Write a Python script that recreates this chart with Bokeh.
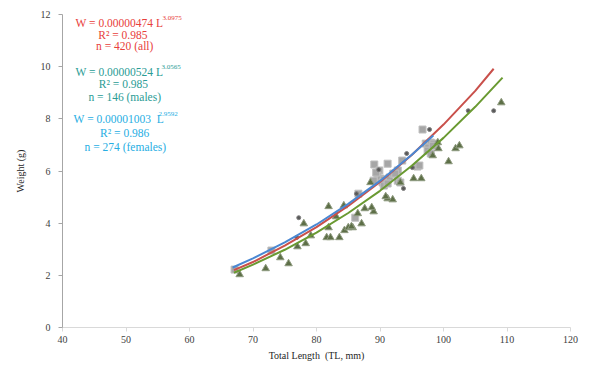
from bokeh.plotting import figure
from bokeh.models import Range1d, Label, FixedTicker
from bokeh.embed import file_html
from bokeh.resources import INLINE

# ---- data ----
sq_x = [67.1, 72.9, 86.6, 89.1, 91.2, 89.9, 89.6, 90.1, 90.6, 91.5, 92.1, 92.8, 93.5, 89.4,
        92.4, 90.4, 92.8, 93.2, 96.7, 97.2, 98.0, 97.6, 97.5, 98.0, 98.4, 95.9, 86.1,
        89.0, 90.6, 91.2, 96.2, 98.3]
sq_y = [2.22, 2.95, 5.13, 6.25, 6.28, 6.02, 5.82, 5.71, 5.67, 5.75, 5.90, 6.02, 6.40, 5.94,
        5.90, 5.56, 5.63, 5.56, 7.59, 7.05, 7.09, 6.90, 6.78, 6.67, 7.05, 6.17, 4.21,
        5.63, 5.44, 5.52, 6.21, 6.97]

tri_x = [67.9, 72.0, 74.3, 75.6, 78.0, 77.0, 78.3, 81.9, 84.3, 83.1, 81.6, 82.2, 83.6, 84.4,
         85.0, 85.7, 87.1, 89.0, 86.5, 87.6, 88.5, 91.2, 92.0, 90.9, 95.3, 96.5, 98.3, 99.1,
         100.8, 101.9, 102.5, 109.1, 81.9, 85.5, 88.7, 79.1, 93.2, 99.2]
tri_y = [2.03, 2.26, 2.68, 2.45, 3.98, 3.10, 3.22, 4.64, 4.67, 4.25, 3.45, 3.45, 3.45, 3.72,
         3.83, 3.83, 3.98, 4.44, 4.37, 4.56, 5.56, 4.94, 4.90, 5.02, 5.71, 5.71, 6.59, 7.09,
         6.36, 6.86, 6.97, 8.62, 3.83, 3.87, 4.60, 3.52, 5.56, 6.86]

dot_x = [77.2, 76.9, 86.3, 89.8, 94.2, 93.7, 95.1, 97.8, 103.9, 107.9]
dot_y = [4.21, 3.45, 5.13, 6.05, 6.67, 5.33, 6.13, 7.59, 8.31, 8.31]

# trend lines
red_x = [67, 70, 75, 80, 85, 90, 95, 100, 105, 107.9]
red_y = [2.20, 2.51, 3.14, 3.85, 4.66, 5.58, 6.61, 7.78, 9.07, 9.92]
grn_x = [67, 70, 75, 80, 85, 90, 95, 100, 105, 109.3]
grn_y = [2.10, 2.41, 2.98, 3.64, 4.39, 5.24, 6.20, 7.27, 8.46, 9.58]
blu_x = [66.8, 70, 75, 80, 85, 90, 95, 98.4]
blu_y = [2.30, 2.65, 3.26, 3.95, 4.74, 5.62, 6.62, 7.36]

x_ticks = [40, 50, 60, 70, 80, 90, 100, 110, 120]
y_ticks = [0, 2, 4, 6, 8, 10, 12]

FONT = "Liberation Serif"

p = figure(width=588, height=368, output_backend="svg", toolbar_location=None,
           x_range=Range1d(40, 120), y_range=Range1d(0, 12),
           min_border_left=62, min_border_right=18, min_border_top=14, min_border_bottom=41)
p.outline_line_color = None
p.xgrid.visible = False
p.ygrid.visible = False

p.xaxis.ticker = FixedTicker(ticks=x_ticks)
p.yaxis.ticker = FixedTicker(ticks=y_ticks)
for ax in (p.xaxis[0], p.yaxis[0]):
    ax.major_label_text_font = FONT
    ax.major_label_text_font_size = "10px"
    ax.major_label_text_color = "#404040"
    ax.axis_label_text_font = FONT
    ax.axis_label_text_font_size = "10px"
    ax.axis_label_text_font_style = "normal"
    ax.axis_label_text_color = "#262626"
    ax.major_tick_in = 0
    ax.major_tick_out = 4
    ax.minor_tick_in = 0
    ax.minor_tick_out = 0
p.xaxis.axis_line_color = "#d9d9d9"
p.xaxis.major_tick_line_color = "#d9d9d9"
p.yaxis.axis_line_color = "#a6a6a6"
p.yaxis.major_tick_line_color = "#a6a6a6"
p.xaxis.axis_label = "Total Length\u00a0\u00a0(TL, mm)"
p.yaxis.axis_label = "Weight (g)"
p.xaxis.major_label_standoff = 4
p.xaxis.axis_label_standoff = 4
p.yaxis.major_label_standoff = 8
p.yaxis.axis_label_standoff = 12

# points
p.scatter(sq_x, sq_y, marker="square", size=7, fill_color="#a6a6a6", line_color="#bfbfbf")
p.scatter(tri_x, tri_y, marker="triangle", size=7.5, fill_color="#5d6f47", line_color="#8f9b80")
p.scatter(dot_x, dot_y, marker="circle", size=4, fill_color="#595959", line_color="#7f7f7f")

# trend lines
p.line(grn_x, grn_y, line_color="#6a9a32", line_width=2)
p.line(red_x, red_y, line_color="#c9504b", line_width=2)
p.line(blu_x, blu_y, line_color="#4a88d3", line_width=2)

def add(text, x, y, color, size="11.5px", align="left"):
    p.add_layout(Label(x=x, y=y, text=text, text_font=FONT, text_font_size=size,
                       text_color=color, text_align=align, text_baseline="middle"))

RED, TEAL, CYAN = "#e8403b", "#2a9c95", "#27aee3"
add("W = 0.00000474 L", 42.05, 11.67, RED)
add("3.0975", 55.75, 11.88, RED, "7px")
add("R² = 0.985", 49.5, 11.23, RED, align="center")
add("n = 420 (all)", 49.8, 10.79, RED, align="center")

add("W = 0.00000524 L", 42.05, 9.81, TEAL)
add("3.0565", 55.6, 10.0, TEAL, "7px")
add("R² = 0.985", 49.6, 9.35, TEAL, align="center")
add("n = 146 (males)", 49.8, 8.85, TEAL, align="center")

add("W = 0.00001003\u00a0\u00a0L", 41.75, 8.01, CYAN)
add("2.9592", 55.1, 8.2, CYAN, "7px")
add("R² = 0.986", 49.8, 7.47, CYAN, align="center")
add("n = 274 (females)", 49.9, 6.93, CYAN, align="center")

open("out.html", "w").write(file_html(p, INLINE))
